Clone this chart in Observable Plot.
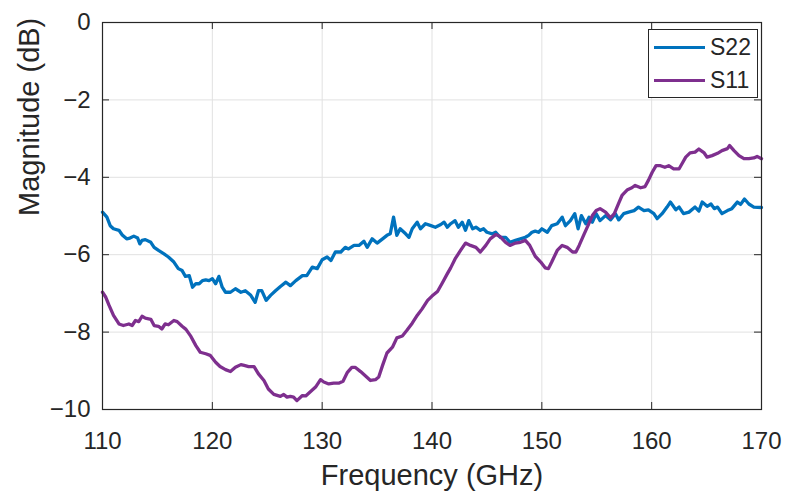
<!DOCTYPE html>
<html>
<head>
<meta charset="utf-8">
<script src="https://cdn.jsdelivr.net/npm/d3@7"></script>
<script src="https://cdn.jsdelivr.net/npm/@observablehq/plot@0.6"></script>
<style>
  html, body { margin: 0; padding: 0; background: #fff; }
  #wrap { position: relative; width: 788px; height: 493px; font-family: "Liberation Sans", Arial, sans-serif; color: #262626; }
  #legend { position: absolute; left: 648px; top: 29px; width: 110px; height: 69px; border: 1px solid #262626; background: #fff; box-sizing: border-box; }
  #legend .row { position: absolute; left: 5px; height: 24px; display: flex; align-items: center; font-size: 23px; color: #262626; }
  #legend .sw { width: 51px; height: 3px; margin-right: 5px; }
</style>
</head>
<body>
<div id="wrap"></div>
<script>
// ---- data ----
const seriesNames = ["S22", "S11"];
const seriesColors = ["#0072BD", "#7E2F8E"];

const s22Freq = [110.0,110.4,110.7,111.0,111.5,111.8,112.2,112.5,112.85,113.2,113.4,113.6,113.9,114.4,114.7,115.1,115.6,116.0,116.5,116.9,117.25,117.55,117.9,118.2,118.5,118.8,119.1,119.4,119.7,120.0,120.3,120.6,120.9,121.2,121.65,122.1,122.6,123.0,123.5,123.9,124.2,124.5,124.9,125.3,125.75,126.2,126.7,127.1,127.6,128.2,128.6,129.1,129.55,130.0,130.45,130.8,131.2,131.7,132.1,132.4,132.9,133.35,133.8,134.1,134.55,135.0,135.5,135.9,136.2,136.5,136.8,137.1,137.6,137.9,138.2,138.65,138.95,139.4,139.9,140.3,140.8,141.1,141.4,141.7,142.1,142.4,142.75,143.05,143.35,143.7,144.0,144.4,144.7,145.0,145.5,145.8,146.2,146.7,147.1,147.6,148.05,148.5,148.8,149.1,149.4,149.7,150.0,150.5,150.9,151.4,151.85,152.15,152.6,153.0,153.3,153.6,154.0,154.3,154.6,154.95,155.3,155.8,156.25,156.7,157.0,157.45,157.9,158.4,158.8,159.3,159.7,160.2,160.5,160.95,161.4,161.7,162.2,162.5,162.9,163.4,163.95,164.3,164.6,165.05,165.4,165.7,166.0,166.4,166.9,167.3,167.8,168.1,168.45,168.85,169.3,170.0];
const s22Mag = [-4.90,-5.03,-5.25,-5.33,-5.37,-5.49,-5.59,-5.57,-5.52,-5.57,-5.72,-5.63,-5.61,-5.68,-5.81,-5.89,-5.98,-6.06,-6.19,-6.36,-6.41,-6.56,-6.54,-6.84,-6.75,-6.75,-6.67,-6.65,-6.67,-6.62,-6.75,-6.56,-6.84,-6.97,-6.97,-6.88,-6.97,-6.93,-7.05,-7.23,-6.93,-6.93,-7.18,-7.05,-6.93,-6.82,-6.71,-6.80,-6.67,-6.54,-6.54,-6.32,-6.36,-6.13,-6.06,-6.15,-5.93,-5.93,-5.81,-5.85,-5.76,-5.76,-5.65,-5.81,-5.59,-5.70,-5.59,-5.50,-5.46,-5.03,-5.50,-5.33,-5.46,-5.55,-5.33,-5.16,-5.33,-5.20,-5.25,-5.29,-5.22,-5.16,-5.29,-5.20,-5.12,-5.29,-5.16,-5.37,-5.12,-5.33,-5.29,-5.37,-5.33,-5.42,-5.46,-5.42,-5.55,-5.55,-5.68,-5.63,-5.59,-5.55,-5.50,-5.42,-5.39,-5.42,-5.33,-5.42,-5.25,-5.20,-5.03,-5.25,-5.12,-4.94,-5.33,-4.99,-5.20,-5.03,-5.16,-4.94,-5.12,-4.99,-5.10,-4.94,-5.10,-4.94,-4.90,-4.86,-4.77,-4.86,-4.84,-4.94,-5.07,-4.94,-4.77,-4.64,-4.84,-4.77,-4.94,-4.90,-4.77,-4.87,-4.64,-4.75,-4.69,-4.81,-4.77,-4.94,-4.86,-4.81,-4.64,-4.70,-4.56,-4.69,-4.77,-4.78];

const s11Freq = [110.0,110.3,110.6,111.0,111.5,111.9,112.4,112.7,113.0,113.3,113.6,113.9,114.4,114.7,115.1,115.4,115.7,116.0,116.5,116.8,117.25,117.6,118.0,118.5,118.9,119.4,119.8,120.3,120.7,121.2,121.65,122.1,122.6,122.9,123.3,123.8,124.2,124.7,125.1,125.6,126.2,126.5,126.8,127.1,127.4,127.7,128.2,128.5,128.9,129.4,129.85,130.15,130.6,131.05,131.5,131.9,132.3,132.7,133.0,133.5,133.9,134.4,134.85,135.15,135.5,135.9,136.4,136.8,137.3,137.7,138.2,138.65,139.1,139.6,140.0,140.5,140.9,141.4,141.7,142.1,142.6,143.05,143.5,144.0,144.4,144.9,145.3,145.8,146.2,146.7,147.1,147.6,148.05,148.5,148.9,149.4,149.9,150.3,150.6,150.9,151.4,151.85,152.3,152.8,153.1,153.4,153.8,154.2,154.6,154.95,155.3,155.8,156.25,156.6,157.0,157.3,157.8,158.2,158.5,159.0,159.4,159.7,160.05,160.4,160.8,161.2,161.55,162.0,162.5,162.8,163.1,163.5,163.95,164.3,164.75,165.05,165.5,166.0,166.4,166.9,167.1,167.5,167.95,168.4,168.85,169.3,169.6,170.0];
const s11Mag = [-6.97,-7.10,-7.31,-7.57,-7.79,-7.83,-7.79,-7.83,-7.70,-7.73,-7.59,-7.64,-7.67,-7.83,-7.85,-7.92,-7.79,-7.81,-7.70,-7.73,-7.85,-7.93,-8.09,-8.35,-8.52,-8.56,-8.60,-8.78,-8.89,-8.97,-9.02,-8.91,-8.84,-8.86,-8.89,-8.89,-9.08,-9.25,-9.47,-9.61,-9.66,-9.61,-9.68,-9.66,-9.68,-9.77,-9.64,-9.65,-9.55,-9.42,-9.23,-9.29,-9.34,-9.32,-9.32,-9.27,-9.04,-8.91,-8.91,-9.02,-9.12,-9.25,-9.23,-9.16,-8.86,-8.54,-8.39,-8.15,-8.10,-7.96,-7.77,-7.57,-7.40,-7.18,-7.07,-6.95,-6.75,-6.49,-6.34,-6.11,-5.89,-5.70,-5.76,-5.81,-5.93,-5.76,-5.59,-5.48,-5.53,-5.68,-5.76,-5.70,-5.68,-5.63,-5.76,-6.04,-6.19,-6.34,-6.36,-6.19,-5.89,-5.76,-5.81,-5.93,-5.93,-5.76,-5.50,-5.25,-4.99,-4.86,-4.81,-4.90,-5.05,-4.94,-4.67,-4.47,-4.32,-4.27,-4.21,-4.27,-4.24,-4.08,-3.87,-3.70,-3.70,-3.74,-3.70,-3.78,-3.78,-3.63,-3.48,-3.37,-3.35,-3.27,-3.36,-3.48,-3.44,-3.38,-3.31,-3.26,-3.18,-3.31,-3.44,-3.52,-3.52,-3.50,-3.46,-3.52];

const xTicks = [110, 120, 130, 140, 150, 160, 170];
const yTicks = [-10, -8, -6, -4, -2, 0];
const xLabel = "Frequency (GHz)";
const yLabel = "Magnitude (dB)";

// ---- build ----
const s22 = s22Freq.map((f, i) => ({f, m: s22Mag[i], s: "S22"}));
const s11 = s11Freq.map((f, i) => ({f, m: s11Mag[i], s: "S11"}));

const W = 788, H = 493;
const mL = 102, mR = 27, mT = 22, mB = 84;
const xDom = [110, 170], yDom = [-10, 0];
const tickPx = 7;
const dxTick = tickPx * (xDom[1] - xDom[0]) / (W - mL - mR);
const dyTick = tickPx * (yDom[1] - yDom[0]) / (H - mT - mB);
const axisColor = "#262626";
const gridColor = "#e1e1e1";

const chart = Plot.plot({
  width: W, height: H,
  marginLeft: mL, marginRight: mR, marginTop: mT, marginBottom: mB,
  style: {fontFamily: "'Liberation Sans', Arial, sans-serif", fontSize: "24px", color: axisColor, background: "#fff"},
  x: {domain: xDom, ticks: xTicks},
  y: {domain: yDom, ticks: yTicks},
  marks: [
    Plot.ruleX(xTicks, {stroke: gridColor, strokeWidth: 1}),
    Plot.ruleY(yTicks, {stroke: gridColor, strokeWidth: 1}),
    Plot.line(s22, {x: "f", y: "m", stroke: seriesColors[0], strokeWidth: 3.3, strokeLinejoin: "round"}),
    Plot.line(s11, {x: "f", y: "m", stroke: seriesColors[1], strokeWidth: 3.3, strokeLinejoin: "round"}),
    Plot.frame({stroke: axisColor, strokeWidth: 1.2}),
    // inward ticks
    Plot.ruleX(xTicks, {y1: yDom[0], y2: yDom[0] + dyTick, stroke: axisColor}),
    Plot.ruleX(xTicks, {y1: yDom[1], y2: yDom[1] - dyTick, stroke: axisColor}),
    Plot.ruleY(yTicks, {x1: xDom[0], x2: xDom[0] + dxTick, stroke: axisColor}),
    Plot.ruleY(yTicks, {x1: xDom[1], x2: xDom[1] - dxTick, stroke: axisColor}),
    Plot.axisX({ticks: xTicks, tickSize: 0, tickPadding: 22, label: null, fill: axisColor}),
    Plot.axisY({ticks: yTicks, tickSize: 0, tickPadding: 12, label: null, fill: axisColor}),
    Plot.text([xLabel], {frameAnchor: "bottom", dy: 75, text: d => d, fontSize: 29, fill: axisColor}),
    Plot.text([yLabel], {frameAnchor: "left", dx: -73, rotate: -90, text: d => d, fontSize: 29, fill: axisColor})
  ]
});

const wrap = document.getElementById("wrap");
wrap.appendChild(chart);

// legend
const legend = document.createElement("div");
legend.id = "legend";
seriesNames.forEach((name, i) => {
  const row = document.createElement("div");
  row.className = "row";
  row.style.top = (5 + i * 33) + "px";
  const sw = document.createElement("span");
  sw.className = "sw";
  sw.style.background = seriesColors[i];
  const t = document.createElement("span");
  t.textContent = name;
  row.appendChild(sw);
  row.appendChild(t);
  legend.appendChild(row);
});
wrap.appendChild(legend);
</script>
</body>
</html>
